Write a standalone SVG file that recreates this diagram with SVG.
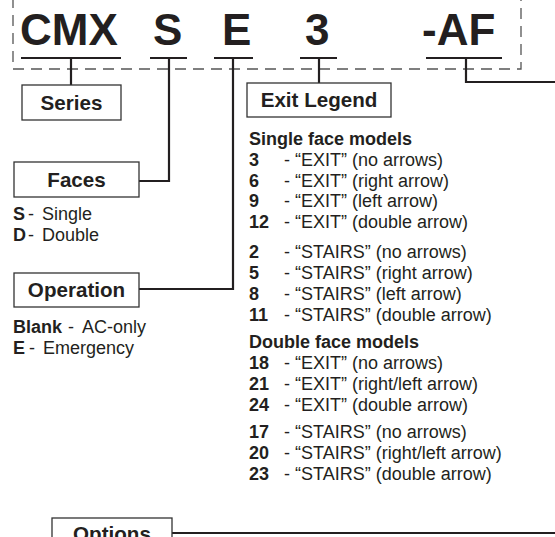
<svg xmlns="http://www.w3.org/2000/svg" width="555" height="537" viewBox="0 0 555 537">
<style>
text{font-family:"Liberation Sans",Arial,sans-serif;fill:#231f20}
.big{font-size:44px;font-weight:bold}
.title{font-size:20.6px;font-weight:bold;text-anchor:middle}
.body{font-size:18px}
.b{font-weight:bold}
.box{fill:#fff;stroke:#333;stroke-width:1.3}
.ul{stroke:#231f20;stroke-width:2.2;fill:none}
.con{stroke:#231f20;stroke-width:2.2;fill:none}
.dash{stroke:#555;stroke-width:1.3;fill:none;stroke-dasharray:11 7}
</style>
<rect width="555" height="537" fill="#fff"/>
<path class="dash" d="M13,-3 V69 H521 V-3"/>
<g id="code">
<text class="big" x="20" y="45">CMX</text>
<text class="big" x="153" y="45">S</text>
<text class="big" x="222" y="45">E</text>
<text class="big" x="305" y="45">3</text>
<text class="big" x="422" y="45">-AF</text>
<path class="ul" d="M21,58 H121 M150,58 H187 M214,58 H253 M300,58 H337 M426,58 H502"/>
</g>
<g id="connectors">
<path class="con" d="M71,58 V85"/>
<path class="con" d="M169,58 V181 H139"/>
<path class="con" d="M233,58 V289 H139"/>
<path class="con" d="M319,58 V83"/>
<path class="con" d="M466,58 V82 H555"/>
<path class="con" d="M172,533 H555"/>
</g>
<g id="series">
<rect class="box" x="22" y="85" width="99" height="35"/>
<text class="title" x="71.5" y="110">Series</text>
</g>
<g id="faces">
<rect class="box" x="14" y="162" width="125" height="35"/>
<text class="title" x="76.5" y="187">Faces</text>
<text class="body" x="13" y="220"><tspan class="b">S</tspan><tspan x="28">-</tspan><tspan x="42">Single</tspan></text>
<text class="body" x="13" y="241"><tspan class="b">D</tspan><tspan x="28">-</tspan><tspan x="42">Double</tspan></text>
</g>
<g id="operation">
<rect class="box" x="14" y="273" width="125" height="34"/>
<text class="title" x="76.5" y="297">Operation</text>
<text class="body" x="13" y="333"><tspan class="b">Blank</tspan><tspan x="68">-</tspan><tspan x="82">AC-only</tspan></text>
<text class="body" x="13" y="354"><tspan class="b">E</tspan><tspan x="29">-</tspan><tspan x="43">Emergency</tspan></text>
</g>
<g id="exit-legend">
<rect class="box" x="247" y="83" width="144" height="34"/>
<text class="title" x="319" y="107">Exit Legend</text>
<g class="body">
<text class="b" x="249" y="145">Single face models</text>
<text x="249" y="166"><tspan class="b">3</tspan><tspan x="284">-</tspan><tspan x="295">“EXIT” (no arrows)</tspan></text>
<text x="249" y="187"><tspan class="b">6</tspan><tspan x="284">-</tspan><tspan x="295">“EXIT” (right arrow)</tspan></text>
<text x="249" y="207"><tspan class="b">9</tspan><tspan x="284">-</tspan><tspan x="295">“EXIT” (left arrow)</tspan></text>
<text x="249" y="228"><tspan class="b">12</tspan><tspan x="284">-</tspan><tspan x="295">“EXIT” (double arrow)</tspan></text>
<text x="249" y="258"><tspan class="b">2</tspan><tspan x="284">-</tspan><tspan x="295">“STAIRS” (no arrows)</tspan></text>
<text x="249" y="279"><tspan class="b">5</tspan><tspan x="284">-</tspan><tspan x="295">“STAIRS” (right arrow)</tspan></text>
<text x="249" y="300"><tspan class="b">8</tspan><tspan x="284">-</tspan><tspan x="295">“STAIRS” (left arrow)</tspan></text>
<text x="249" y="321"><tspan class="b">11</tspan><tspan x="284">-</tspan><tspan x="295">“STAIRS” (double arrow)</tspan></text>
<text class="b" x="249" y="348">Double face models</text>
<text x="249" y="369"><tspan class="b">18</tspan><tspan x="284">-</tspan><tspan x="295">“EXIT” (no arrows)</tspan></text>
<text x="249" y="390"><tspan class="b">21</tspan><tspan x="284">-</tspan><tspan x="295">“EXIT” (right/left arrow)</tspan></text>
<text x="249" y="411"><tspan class="b">24</tspan><tspan x="284">-</tspan><tspan x="295">“EXIT” (double arrow)</tspan></text>
<text x="249" y="438"><tspan class="b">17</tspan><tspan x="284">-</tspan><tspan x="295">“STAIRS” (no arrows)</tspan></text>
<text x="249" y="459"><tspan class="b">20</tspan><tspan x="284">-</tspan><tspan x="295">“STAIRS” (right/left arrow)</tspan></text>
<text x="249" y="480"><tspan class="b">23</tspan><tspan x="284">-</tspan><tspan x="295">“STAIRS” (double arrow)</tspan></text>
</g>
</g>
<g id="options">
<rect class="box" x="52" y="518" width="120" height="30"/>
<text class="title" x="112" y="541">Options</text>
</g>
</svg>
